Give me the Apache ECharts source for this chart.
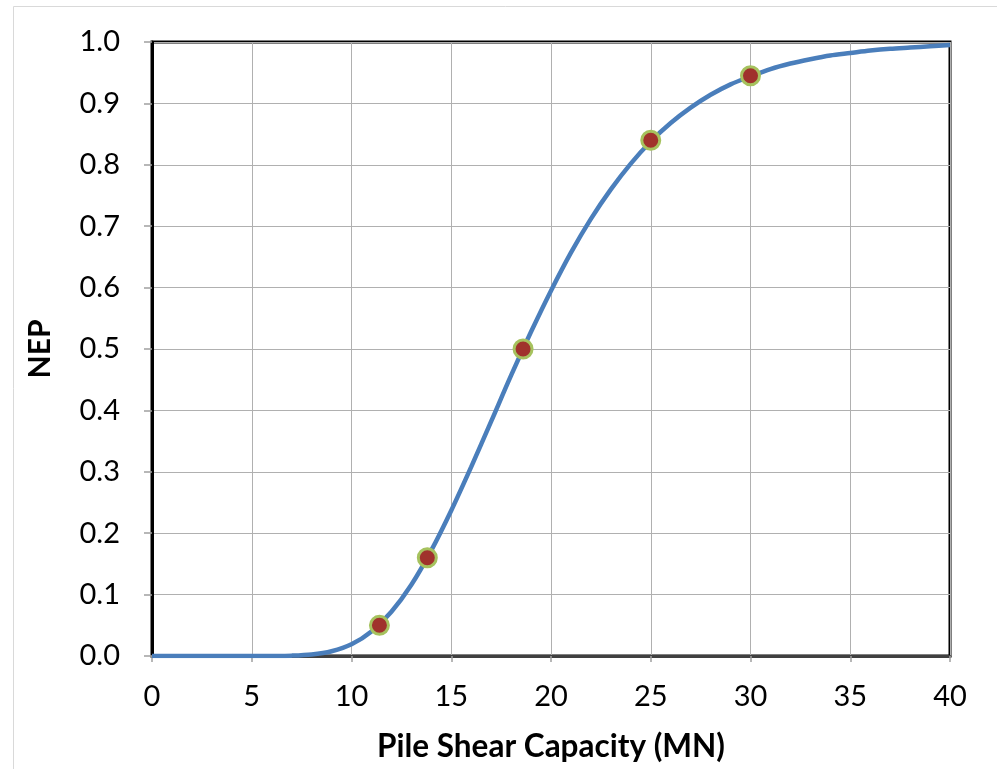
<!DOCTYPE html>
<html><head><meta charset="utf-8">
<script src="https://cdn.jsdelivr.net/npm/echarts@6/dist/echarts.min.js"></script>
<style>html,body{margin:0;padding:0;background:#fff}#c{width:997px;height:769px}</style>
</head><body><div id="c"></div>
<script>
const curveX = [0,1,2,3,4,5,6,7,8,9,10,11,12,13,14,15,16,17,18,19,20,21,22,23,24,25,26,27,28,29,30,31,32,33,34,35,36,37,38,39,40];
const curveY = [0,0,0,0,0,0,0.0001,0.0006,0.0025,0.0078,0.019,0.040,0.072,0.116,0.172,0.237,0.308,0.382,0.457,0.528,0.595,0.657,0.712,0.760,0.802,0.838,0.868,0.893,0.914,0.931,0.944,0.956,0.965,0.972,0.978,0.982,0.986,0.989,0.991,0.993,0.995];
const pointX = [11.4,13.8,18.6,25,30];
const pointY = [0.05,0.16,0.5,0.84,0.945];
const xTitle = 'Pile Shear Capacity (MN)';
const yTitle = 'NEP';

const chart = echarts.init(document.getElementById('c'), null, {renderer:'canvas'});
const font = 'Lato, "Open Sans", sans-serif';
chart.setOption({
  animation:false,
  graphic:[{type:'rect',shape:{x:13.5,y:6.5,width:1000,height:800},style:{fill:'none',stroke:'#d9d9d9',lineWidth:1},silent:true,z:-1}],
  grid:{left:152,right:47,top:42,bottom:113,show:true,borderColor:'#000',borderWidth:3,backgroundColor:'transparent'},
  xAxis:{type:'value',min:0,max:40,interval:5,
    name:xTitle,nameLocation:'middle',nameGap:75,
    nameTextStyle:{fontFamily:font,fontSize:31.5,fontWeight:'bold',color:'#000'},
    axisLine:{show:true,onZero:false,lineStyle:{color:'#404040',width:3}},
    axisTick:{show:true,length:6,lineStyle:{color:'#a0a0a0',width:1.5}},
    axisLabel:{fontFamily:font,fontSize:29,color:'#000',margin:26,formatter:v=>String(v)},
    splitLine:{show:true,lineStyle:{color:'#b0b0b0',width:1}}},
  yAxis:{type:'value',min:0,max:1,interval:0.1,
    name:yTitle,nameLocation:'middle',nameGap:97,nameRotate:90,
    nameTextStyle:{fontFamily:font,fontSize:30,fontWeight:'bold',color:'#000'},
    axisLine:{show:true,lineStyle:{color:'#000',width:3}},
    axisTick:{show:true,length:8,lineStyle:{color:'#a0a0a0',width:1.5}},
    axisLabel:{fontFamily:font,fontSize:29,color:'#000',margin:32,formatter:v=>v.toFixed(1)},
    splitLine:{show:true,lineStyle:{color:'#b0b0b0',width:1}}},
  series:[
    {type:'line',data:curveX.map((x,i)=>[x,curveY[i]]),smooth:0.3,showSymbol:false,
     lineStyle:{color:'#4a7ebb',width:4.5},z:2},
    {type:'scatter',data:pointX.map((x,i)=>[x,pointY[i]]),symbol:'circle',symbolSize:18,
     itemStyle:{color:'#a0322c',borderColor:'#a6c25e',borderWidth:3,opacity:1},z:3}
  ]
});
</script></body></html>
